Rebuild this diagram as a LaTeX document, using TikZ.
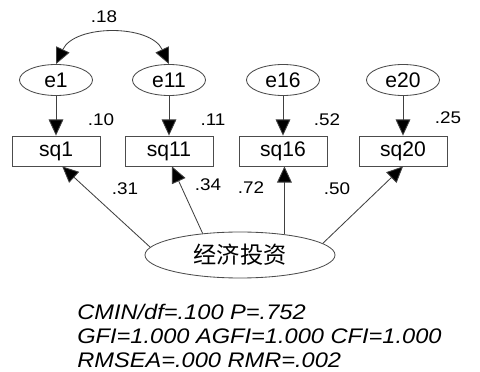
\documentclass[tikz,border=0pt]{standalone}
\usepackage{fontspec}
\setmainfont{Liberation Sans}
\newfontfamily\widesans[FakeStretch=1.12]{Liberation Sans}
\newfontfamily\cjk{Noto Sans CJK SC}
\usetikzlibrary{arrows.meta,shapes.geometric}

\begin{document}
\begin{tikzpicture}[
  err/.style={ellipse, draw=black!70, line width=0.6pt, minimum width=1.825cm,
              minimum height=0.775cm, inner sep=0pt,
              font=\fontsize{15}{18}\selectfont},
  obs/.style={rectangle, draw=black!70, line width=0.6pt, minimum width=2.2cm,
              minimum height=0.75cm, inner sep=0pt,
              font=\fontsize{15}{18}\selectfont},
  lat/.style={ellipse, draw=black!70, line width=0.6pt, minimum width=4.75cm,
              minimum height=1.15cm, inner sep=0pt,
              font=\cjk\fontsize{16.5}{20}\selectfont},
  num/.style={inner sep=0pt, font=\widesans\fontsize{12}{14}\selectfont},
  stat/.style={anchor=base west, inner sep=0pt,
               font=\widesans\itshape\fontsize{15}{18}\selectfont},
  path/.style={draw=black!75, line width=0.6pt},
  >={Triangle[length=11.5pt,width=10.5pt,fill=black]}]
\useasboundingbox (0,0) rectangle (12,-9.3);
\node[err] (e1)  at (1.4,-2.0)   {e1};
\node[err] (e11) at (4.225,-2.0) {e11};
\node[err] (e16) at (7.075,-2.0) {e16};
\node[err] (e20) at (10.075,-2.0) {e20};
\node[obs] (sq1)  at (1.4,-3.775)   {sq1};
\node[obs] (sq11) at (4.225,-3.775) {sq11};
\node[obs] (sq16) at (7.075,-3.775) {sq16};
\node[obs] (sq20) at (10.075,-3.775) {sq20};
\node[lat] (econ) at (6.0,-6.375) {经济投资};
% loadings and squared multiple correlations
\node[num] (r18) at (2.6,-0.425)  {.18};
\node[num] (r10) at (2.525,-3.0)  {.10};
\node[num] (r11) at (5.325,-3.0)  {.11};
\node[num] (r52) at (8.175,-3.0)  {.52};
\node[num] (r25) at (11.2,-2.95)  {.25};
\node[num] (l31) at (3.125,-4.725) {.31};
\node[num] (l34) at (5.2,-4.625)   {.34};
\node[num] (l72) at (6.275,-4.7)   {.72};
\node[num] (l50) at (8.425,-4.725) {.50};
% fit indices
\node[stat] (fit1) at (1.925,-8.0) {CMIN/df=.100 P=.752};
\node[stat] (fit2) at (1.925,-8.6) {GFI=1.000 AGFI=1.000 CFI=1.000};
\node[stat] (fit3) at (1.925,-9.2) {RMSEA=.000 RMR=.002};
\draw[path, <->] (e1.north) to[bend left=65] (e11.north);
\draw[path, ->] (e1) -- (sq1);
\draw[path, ->] (e11) -- (sq11);
\draw[path, ->] (e16) -- (sq16);
\draw[path, ->] (e20) -- (sq20);
\draw[path, ->] (econ.175) -- (sq1.-68);
\draw[path, ->] (econ.150) -- (sq11.-79);
\draw[path, ->] (econ.25) -- (econ.25 |- sq16.south);
\draw[path, ->] (econ.8) -- (sq20.south);
\end{tikzpicture}
\end{document}
